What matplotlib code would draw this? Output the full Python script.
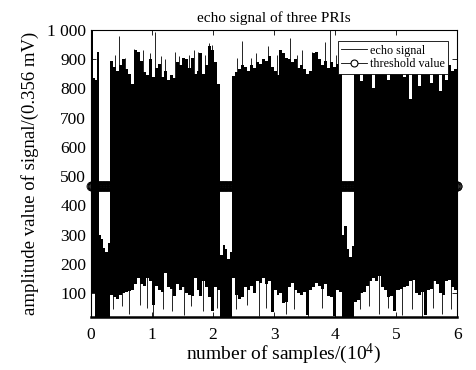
import matplotlib
matplotlib.use('Agg')
import matplotlib.pyplot as plt
import numpy as np
from matplotlib.lines import Line2D

plt.rcParams['font.family'] = ['Liberation Serif', 'DejaVu Serif']
plt.rcParams['mathtext.fontset'] = 'custom'
plt.rcParams['mathtext.rm'] = 'Liberation Serif'
plt.rcParams['mathtext.default'] = 'regular'

# Echo record (x in units of 1e4 samples). The raw trace is too dense to
# draw sample by sample at this size, so each segment is kept as its
# max/min envelope per short bin; gaps between PRIs only hold noise.
SEG_EDGES = [0.0, 0.125, 0.31, 2.12, 2.31, 4.11, 4.31, 6.0]
NOISE_FLOOR = 10

BURST_TOP = [1000, 835, 830, 925]
BURST_LOW = [100, 100, 18, 18]

GAP1_TOP = [300, 285, 255, 240, 270]
GAP2_TOP = [230, 265, 250, 215, 240]
GAP3_TOP = [300, 330, 250, 225, 260]

PRI1_TOP = [893, 875, 860, 880, 900, 865, 850, 815, 930, 925, 895, 855, 845,
            900, 840, 870, 885, 840, 860, 830, 845, 835, 890, 880, 905, 900,
            870, 905, 850, 860, 920, 850, 880, 945, 930, 890, 815]
PRI1_LOW = [93, 85, 80, 95, 100, 105, 108, 112, 130, 150, 130, 125, 150,
            140, 60, 125, 110, 105, 170, 120, 115, 90, 130, 110, 120, 100,
            95, 90, 150, 110, 90, 140, 120, 85, 40, 120, 110]

PRI2_TOP = [841, 855, 865, 880, 875, 860, 880, 870, 890, 885, 900, 895, 910,
            875, 860, 845, 930, 920, 905, 900, 890, 900, 870, 880, 865, 850,
            860, 920, 925, 900, 880, 895, 870, 890, 875, 885, 860]
PRI2_LOW = [150, 95, 80, 85, 120, 110, 125, 100, 140, 135, 150, 130, 140,
            35, 110, 95, 100, 65, 70, 120, 135, 110, 100, 95, 105, 25, 110,
            120, 135, 125, 115, 130, 90, 85, 20, 110, 105]

PRI3_TOP = [890, 880, 825, 900, 905, 880, 800, 890, 910, 885, 870, 830, 900,
            895, 880, 905, 840, 890, 765, 900, 880, 810, 895, 900, 880, 820,
            895, 890, 790, 900, 830, 880, 860, 865]
PRI3_LOW = [70, 75, 100, 105, 125, 140, 150, 140, 160, 120, 110, 85, 90, 40,
            110, 115, 120, 125, 140, 145, 100, 95, 105, 25, 110, 115, 140,
            130, 100, 95, 140, 145, 120, 110]

# single-sample peaks above the envelope and dips below it
SPIKE_UP_X = [0.40, 0.46, 0.55, 0.71, 0.78, 0.85, 0.97, 1.05, 1.14, 1.22,
              1.37, 1.45, 1.60, 1.68, 1.75, 1.86, 1.94, 1.99, 2.40, 2.47,
              2.62, 2.71, 2.90, 3.05, 3.12, 3.26, 3.38, 3.45, 3.62, 3.70,
              3.83, 3.91, 4.02]
SPIKE_UP_Y = [915, 978, 905, 935, 915, 930, 920, 993, 910, 900,
              925, 910, 915, 930, 925, 915, 955, 948, 905, 961,
              905, 920, 944, 915, 925, 972, 915, 930, 925, 910,
              960, 1000, 915]
SPIKE_DN_X = [0.36, 0.50, 0.62, 0.80, 0.92, 1.01, 1.18, 1.33, 1.52, 1.64,
              1.83, 2.06, 2.38, 2.55, 2.75, 2.86, 3.20, 3.33, 3.55, 3.78,
              4.00, 4.40, 4.55, 4.72, 4.86, 5.10, 5.26, 5.42, 5.60, 5.75,
              5.90]
SPIKE_DN_Y = [45, 55, 30, 60, 50, 18, 45, 40, 25, 55,
              40, 50, 45, 60, 22, 50, 30, 45, 18, 50,
              18, 45, 55, 28, 50, 25, 45, 18, 50, 30,
              45]

THRESHOLD = 465

segments = [
    (BURST_TOP, BURST_LOW),
    (GAP1_TOP, [NOISE_FLOOR] * len(GAP1_TOP)),
    (PRI1_TOP, PRI1_LOW),
    (GAP2_TOP, [NOISE_FLOOR] * len(GAP2_TOP)),
    (PRI2_TOP, PRI2_LOW),
    (GAP3_TOP, [NOISE_FLOOR] * len(GAP3_TOP)),
    (PRI3_TOP, PRI3_LOW),
]

xs, tops, lows = [], [], []
for (top, low), x0, x1 in zip(segments, SEG_EDGES[:-1], SEG_EDGES[1:]):
    xs.append(np.linspace(x0, x1, len(top) + 1)[:-1])
    tops.append(top)
    lows.append(low)
xs = np.concatenate(xs + [[SEG_EDGES[-1]]])
tops = np.concatenate(tops + [[tops[-1][-1]]]).astype(float)
lows = np.concatenate(lows + [[lows[-1][-1]]]).astype(float)

fig = plt.figure(figsize=(4.77, 3.70), dpi=100)
ax = fig.add_axes([0.1908, 0.1432, 0.7676, 0.7757])

ax.fill_between(xs, lows, tops, step='post', color='k', linewidth=0, zorder=2)
ax.vlines(SPIKE_UP_X, 500, SPIKE_UP_Y, color='k', linewidth=0.6, zorder=2)
ax.vlines(SPIKE_DN_X, SPIKE_DN_Y, 500, color='k', linewidth=0.6, zorder=2)

thr_x = np.linspace(0, 6, 601)
ax.plot(thr_x, np.full_like(thr_x, THRESHOLD), '-o', color='k', lw=0.6,
        ms=6.5, mfc='none', mew=0.6, clip_on=False, zorder=3)

ax.set_xlim(0, 6)
ax.set_ylim(18, 1000)
ax.set_xticks(range(7))
ax.set_yticks(range(100, 1001, 100))
ax.set_yticklabels([str(v) if v < 1000 else '1 000' for v in range(100, 1001, 100)])
ax.tick_params(direction='in', top=True, right=True, length=3.5, width=0.6,
               labelsize=12.5)
ax.tick_params(axis='x', pad=7)
ax.tick_params(axis='y', pad=3.5)
for sp in ax.spines.values():
    sp.set_linewidth(0.8)
    sp.set_zorder(4)
ax.spines['bottom'].set_linewidth(1.8)

ax.set_title('echo signal of three PRIs', fontsize=11, pad=6)
ax.set_xlabel('number of samples/(10$^4$)', fontsize=14, labelpad=0)
ax.xaxis.set_label_coords(0.525, -0.085)
ax.set_ylabel('amplitude value of signal/(0.356 mV)', fontsize=13.5, labelpad=6)

handles = [
    Line2D([], [], color='k', lw=0.6),
    Line2D([], [], color='k', lw=0.6, marker='o', ms=5, mfc='white', mew=0.8),
]
leg = ax.legend(handles, ['echo signal', 'threshold value'], loc='upper right',
                bbox_to_anchor=(0.976, 0.962), borderaxespad=0, fontsize=8.7,
                fancybox=False, framealpha=1, edgecolor='k',
                handlelength=2.1, handletextpad=0.25, labelspacing=0.15,
                borderpad=0.3)
leg.get_frame().set_linewidth(0.6)
leg.set_zorder(5)

fig.savefig('out.png', dpi=100)
